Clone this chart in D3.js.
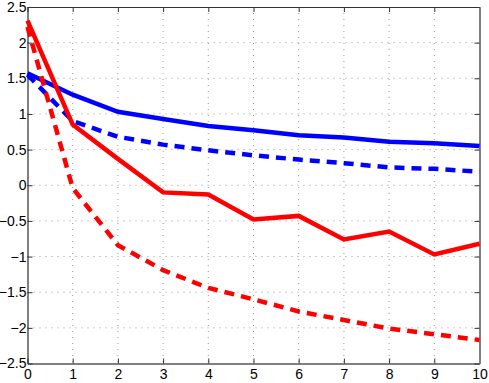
<!DOCTYPE html>
<html>
<head>
<meta charset="utf-8">
<script src="https://cdn.jsdelivr.net/npm/d3@7"></script>
<style>
  body { margin: 0; background: #fff; }
  svg { display: block; font-family: "Liberation Sans", Arial, sans-serif; }
</style>
</head>
<body>
<div id="chart"></div>
<script>
const xValues = [0, 1, 2, 3, 4, 5, 6, 7, 8, 9, 10]
const blueSolid = [1.57, 1.27, 1.03, 0.93, 0.83, 0.77, 0.70, 0.67, 0.61, 0.59, 0.55]
const blueDashed = [1.55, 0.90, 0.68, 0.57, 0.49, 0.42, 0.36, 0.31, 0.25, 0.23, 0.19]
const redSolid = [2.31, 0.85, 0.37, -0.10, -0.13, -0.48, -0.43, -0.76, -0.65, -0.97, -0.82]
const redDashed = [2.22, -0.04, -0.84, -1.19, -1.44, -1.60, -1.77, -1.89, -2.01, -2.09, -2.17]
const xTicks = [0, 1, 2, 3, 4, 5, 6, 7, 8, 9, 10]
const yTicks = [-2.5, -2, -1.5, -1, -0.5, 0, 0.5, 1, 1.5, 2, 2.5]

const margin = { top: 7, left: 27.5, right: 9.5, bottom: 19.5 }
const width = 489 - margin.left - margin.right
const height = 383 - margin.top - margin.bottom

const svg = d3
  .select('#chart')
  .append('svg')
  .attr('width', 489)
  .attr('height', 383)
  .append('g')
  .attr('transform', 'translate(' + margin.left + ',' + margin.top + ')')

const x = d3.scaleLinear().domain([0, 10]).range([0, width])
const y = d3.scaleLinear().domain([-2.5, 2.5]).range([height, 0])

// dotted grid
svg
  .selectAll('.vgrid')
  .data(xTicks.slice(1, -1))
  .enter()
  .append('line')
  .attr('x1', d => x(d))
  .attr('x2', d => x(d))
  .attr('y1', 0)
  .attr('y2', height)
  .attr('stroke', '#999')
  .attr('stroke-dasharray', '1,5')

svg
  .selectAll('.hgrid')
  .data(yTicks.slice(1, -1))
  .enter()
  .append('line')
  .attr('x1', 0)
  .attr('x2', width)
  .attr('y1', d => y(d))
  .attr('y2', d => y(d))
  .attr('stroke', '#999')
  .attr('stroke-dasharray', '1,5')

const fmt = d => String(d).replace('-', '\u2212')

// axes with inward ticks
const axisBottom = svg
  .append('g')
  .attr('transform', 'translate(0,' + height + ')')
  .call(d3.axisBottom(x).tickValues(xTicks).tickSizeInner(-5).tickSizeOuter(0).tickPadding(6).tickFormat(fmt))
const axisLeft = svg
  .append('g')
  .call(d3.axisLeft(y).tickValues(yTicks).tickSizeInner(-5).tickSizeOuter(0).tickPadding(1).tickFormat(fmt))
const axisTop = svg
  .append('g')
  .call(d3.axisTop(x).tickValues(xTicks).tickSizeInner(-5).tickSizeOuter(0).tickFormat(''))
const axisRight = svg
  .append('g')
  .attr('transform', 'translate(' + width + ',0)')
  .call(d3.axisRight(y).tickValues(yTicks).tickSizeInner(-5).tickSizeOuter(0).tickFormat(''))

;[axisBottom, axisLeft, axisTop, axisRight].forEach(a => {
  a.selectAll('text').style('font-size', '14px').attr('fill', '#000')
  a.selectAll('line').attr('stroke', '#333')
})
axisBottom.select('.domain').attr('stroke', '#808080').attr('stroke-width', 2)
axisRight.select('.domain').attr('stroke', '#808080').attr('stroke-width', 2)
axisLeft.select('.domain').attr('stroke', '#000')
axisTop.select('.domain').attr('stroke', '#333')

const series = [
  { values: blueSolid, color: '#0000ff', dash: null },
  { values: blueDashed, color: '#0000ff', dash: '10,7' },
  { values: redSolid, color: '#ff0000', dash: null },
  { values: redDashed, color: '#ff0000', dash: '10,7' }
]

const line = d3
  .line()
  .x((d, i) => x(xValues[i]))
  .y(d => y(d))

svg
  .selectAll('.series')
  .data(series)
  .enter()
  .append('path')
  .attr('d', d => line(d.values))
  .attr('fill', 'none')
  .attr('stroke', d => d.color)
  .attr('stroke-width', 4.5)
  .attr('stroke-dasharray', d => d.dash)
</script>
</body>
</html>
